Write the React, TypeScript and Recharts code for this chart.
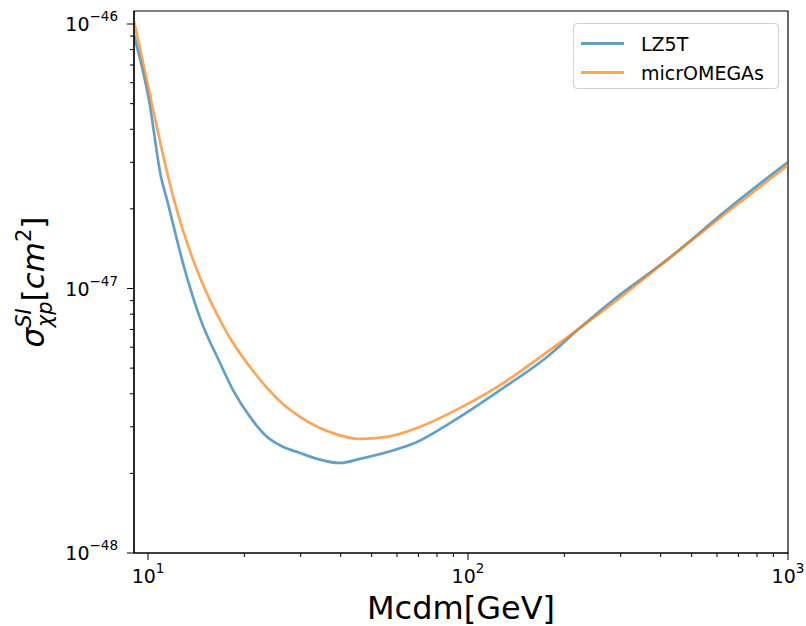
import React from "react";
import {
  Legend,
  Line,
  LineChart,
  ReferenceArea,
  XAxis,
  YAxis,
  Label,
} from "recharts";

// LZ5T limit (mass in GeV, cross section in cm^2)
const lz5tMass = [
  9.04, 10.07, 10.98, 11.47, 12.96, 14.54, 16.79, 18.44, 20.84, 23.54, 26.4,
  29.85, 33.73, 39.8, 45.97, 61.3, 69.3, 87.8, 125.9, 176.6, 223.9, 284.5,
  418.8, 659, 1000,
];
const lz5tSigma = [
  9.08e-47, 5.16e-47, 2.64e-47, 2.16e-47, 1.205e-47, 7.73e-48, 5.23e-48,
  4.13e-48, 3.27e-48, 2.75e-48, 2.52e-48, 2.39e-48, 2.27e-48, 2.19e-48,
  2.27e-48, 2.49e-48, 2.63e-48, 3.1e-48, 4.13e-48, 5.51e-48, 7.1e-48,
  9.05e-48, 1.283e-47, 2.03e-47, 3.01e-47,
];

// micrOMEGAs curve
const microMass = [
  9.04, 10.22, 10.98, 12.06, 14.64, 16.79, 18.44, 20.84, 23.54, 26.4, 29.85,
  37.8, 45.97, 55.8, 69.3, 87.8, 125.9, 176.6, 223.9, 284.5, 418.8, 659, 1000,
];
const microSigma = [
  1.026e-46, 5.16e-47, 3.46e-47, 2.16e-47, 1.076e-47, 7.6e-48, 6.22e-48,
  5.05e-48, 4.21e-48, 3.66e-48, 3.27e-48, 2.84e-48, 2.7e-48, 2.75e-48,
  2.97e-48, 3.38e-48, 4.31e-48, 5.75e-48, 7.1e-48, 8.82e-48, 1.283e-47,
  1.98e-47, 2.93e-47,
];

const X_DOMAIN: [number, number] = [9.04, 1000];
const Y_DOMAIN: [number, number] = [1e-48, 1.12e-46];
const X_TICKS = [
  10, 20, 30, 40, 50, 60, 70, 80, 90, 100, 200, 300, 400, 500, 600, 700, 800,
  900, 1000,
];
const Y_TICKS = [
  1e-48, 2e-48, 3e-48, 4e-48, 5e-48, 6e-48, 7e-48, 8e-48, 9e-48, 1e-47, 2e-47,
  3e-47, 4e-47, 5e-47, 6e-47, 7e-47, 8e-47, 9e-47, 1e-46,
];

const FONT = "'DejaVu Sans', sans-serif";

const lz5tData = lz5tMass.map((m, i) => ({ m, sigma: lz5tSigma[i] }));
const microData = microMass.map((m, i) => ({ m, sigma: microSigma[i] }));

function decade(v: number) {
  const l = Math.log10(v);
  const e = Math.round(l);
  return { major: Math.abs(l - e) < 1e-6, exp: String(e).replace("-", "\u2212") };
}

function XTick(props: any) {
  const { x, y, payload } = props;
  const { major, exp } = decade(payload.value);
  return (
    <g>
      <line x1={x} x2={x} y1={y} y2={y + (major ? 7 : 4)} stroke="#000" strokeWidth={1} />
      {major && (
        <text x={x} y={y + 30} textAnchor="middle" fontSize={19} fontFamily={FONT} fill="#000">
          <tspan>10</tspan>
          <tspan fontSize={13.5} dy={-10}>{exp}</tspan>
        </text>
      )}
    </g>
  );
}

function YTick(props: any) {
  const { x, y, payload } = props;
  const { major, exp } = decade(payload.value);
  return (
    <g>
      <line x1={x} x2={x - (major ? 7 : 4)} y1={y} y2={y} stroke="#000" strokeWidth={1} />
      {major && (
        <text x={x - 16} y={y + 7} textAnchor="end" fontSize={19} fontFamily={FONT} fill="#000">
          <tspan>10</tspan>
          <tspan fontSize={13.5} dy={-10}>{exp}</tspan>
        </text>
      )}
    </g>
  );
}

function LegendBox(props: any) {
  const items = props.payload || [];
  return (
    <div
      style={{
        boxSizing: "border-box",
        width: 206,
        height: 66,
        border: "1px solid #d0d0d0",
        borderRadius: 4,
        background: "rgba(255,255,255,0.8)",
        fontFamily: FONT,
        fontSize: 19,
        padding: "5px 0 0 7px",
      }}
    >
      {items.map((it: any) => (
        <div key={it.value} style={{ display: "flex", alignItems: "center", height: 29 }}>
          <span
            style={{
              display: "inline-block",
              width: 43,
              height: 3,
              background: it.color,
              opacity: 0.7,
              marginRight: 17,
            }}
          />
          <span style={{ color: "#000" }}>{it.value}</span>
        </div>
      ))}
    </div>
  );
}

export default function App() {
  return (
    <div style={{ position: "absolute", left: 0, top: 0, background: "#fff" }}>
      <LineChart
        width={806}
        height={626}
        margin={{ top: 11, right: 18, bottom: 0, left: 0 }}
      >
        <XAxis
          dataKey="m"
          type="number"
          scale="log"
          domain={X_DOMAIN}
          ticks={X_TICKS}
          interval={0}
          allowDataOverflow
          height={73}
          tickSize={0}
          tickMargin={0}
          tick={<XTick />}
          axisLine={{ stroke: "#000", strokeWidth: 1.2 }}
        >
          <Label
            content={(p: any) => {
              const vb = p.viewBox;
              return (
                <text
                  x={vb.x + vb.width / 2}
                  y={vb.y + 66}
                  textAnchor="middle"
                  fontSize={32}
                  fontFamily={FONT}
                  fill="#000"
                >
                  Mcdm[GeV]
                </text>
              );
            }}
          />
        </XAxis>
        <YAxis
          type="number"
          scale="log"
          domain={Y_DOMAIN}
          ticks={Y_TICKS}
          interval={0}
          allowDataOverflow
          width={134}
          tickSize={0}
          tickMargin={0}
          tick={<YTick />}
          axisLine={{ stroke: "#000", strokeWidth: 1.2 }}
        >
          <Label
            content={(p: any) => {
              const vb = p.viewBox;
              const cy = vb.y + vb.height / 2;
              return (
                <text
                  transform={`translate(44,${cy}) rotate(-90)`}
                  textAnchor="middle"
                  fontSize={31}
                  fontFamily={FONT}
                  fill="#000"
                >
                  <tspan fontStyle="italic">σ</tspan>
                  <tspan fontStyle="italic" fontSize={21} dy={-13}>SI</tspan>
                  <tspan fontStyle="italic" fontSize={21} dx={-19} dy={21}>χp</tspan>
                  <tspan dy={-8}>[</tspan>
                  <tspan fontStyle="italic">cm</tspan>
                  <tspan fontSize={21} dy={-13}>2</tspan>
                  <tspan dy={13}>]</tspan>
                </text>
              );
            }}
          />
        </YAxis>
        <ReferenceArea
          x1={X_DOMAIN[0]}
          x2={X_DOMAIN[1]}
          y1={Y_DOMAIN[0]}
          y2={Y_DOMAIN[1]}
          fill="none"
          stroke="#000"
          strokeWidth={1.2}
          ifOverflow="visible"
        />
        <Legend
          layout="horizontal"
          verticalAlign="middle"
          align="center"
          wrapperStyle={{ left: 573, top: 23, width: 206, height: 66 }}
          content={<LegendBox />}
        />
        <Line
          data={lz5tData}
          dataKey="sigma"
          name="LZ5T"
          type="monotone"
          stroke="#1f77b4"
          strokeOpacity={0.7}
          strokeWidth={2.7}
          dot={false}
          isAnimationActive={false}
        />
        <Line
          data={microData}
          dataKey="sigma"
          name="micrOMEGAs"
          type="monotone"
          stroke="#ff7f0e"
          strokeOpacity={0.7}
          strokeWidth={2.7}
          dot={false}
          isAnimationActive={false}
        />
      </LineChart>
    </div>
  );
}
